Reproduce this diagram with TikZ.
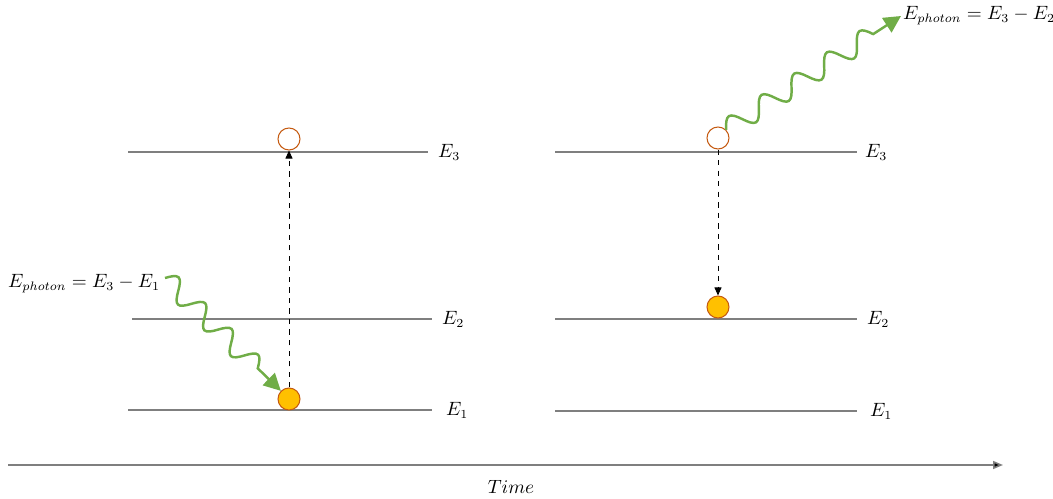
\documentclass[tikz,border=0pt]{standalone}
\usepackage{xcolor}
\usepackage{tikz}
\usetikzlibrary{arrows.meta,positioning,decorations.pathmorphing}
\definecolor{linecol}{HTML}{7F7F7F}
\definecolor{photcol}{HTML}{70AD47}
\definecolor{elcol}{HTML}{FFC000}
\definecolor{rimcol}{HTML}{C55A11}
\tikzset{
  levelline/.style={draw=linecol,line width=0.8pt},
  hole/.style={circle,draw=rimcol,fill=white,line width=0.6pt,minimum size=4.4mm,inner sep=0pt},
  electron/.style={circle,draw=rimcol,fill=elcol,line width=0.6pt,minimum size=4.4mm,inner sep=0pt},
  jump/.style={dashed,line width=0.5pt,-{Triangle[length=1.6mm,width=1.4mm]}},
  photon/.style={draw=photcol,line width=1.4pt,decorate,
    decoration={coil,aspect=0,amplitude=2mm,segment length=7.4mm,post length=3.4mm},
    -{Triangle[length=3.4mm,width=3.4mm]}},
  lvl/.style={font=\fontsize{10.5}{13}\selectfont,inner sep=1pt}
}
\begin{document}
\begin{tikzpicture}[x=0.2mm,y=0.2mm]
\useasboundingbox (0,-499) rectangle (1053,0);

% before: absorption
\draw[levelline] (128,-152) -- (428,-152);
\node[lvl,anchor=west] (la3) at (436,-152) {$E_3$};
\draw[levelline] (132,-319) -- (432,-319);
\node[lvl,anchor=west] (la2) at (440,-319) {$E_2$};
\draw[levelline] (128,-410) -- (432,-410);
\node[lvl,anchor=west] (la1) at (444,-410) {$E_1$};

\node[hole] (ha) at (289,-139) {};
\node[electron] (ea) at (289,-399) {};
\draw[jump] (ea.north) -- (ha.south);

\node[lvl] (pa) at (84,-284) {$E_{photon}=E_3-E_1$};
\coordinate (pa0) at (165,-278);
\draw[photon] (pa0) -- (ea.north west);

% after: emission
\draw[levelline] (555,-152) -- (857,-152);
\node[lvl,anchor=west] (lb3) at (863,-152) {$E_3$};
\draw[levelline] (555,-319) -- (857,-319);
\node[lvl,anchor=west] (lb2) at (865,-319) {$E_2$};
\draw[levelline] (555,-411) -- (857,-411);
\node[lvl,anchor=west] (lb1) at (868,-411) {$E_1$};

\node[hole] (hb) at (718,-138) {};
\node[electron] (eb) at (718,-307) {};
\draw[jump] (hb.south) -- (eb.north);

\node[lvl,anchor=west] (pb) at (901,-16) {$E_{photon}=E_3-E_2$};
\draw[photon,decoration={segment length=7.8mm,amplitude=2mm}] (hb.north east) -- (pb.west);

% time axis
\coordinate (t0) at (8,-465);
\coordinate (t1) at (1003,-465);
\draw[draw=linecol,line width=0.9pt,-{Triangle[length=2mm,width=1.6mm,fill=black]}] (t0) -- (t1);
\node[lvl] (tm) at (511,-487) {$Time$};
\end{tikzpicture}
\end{document}
